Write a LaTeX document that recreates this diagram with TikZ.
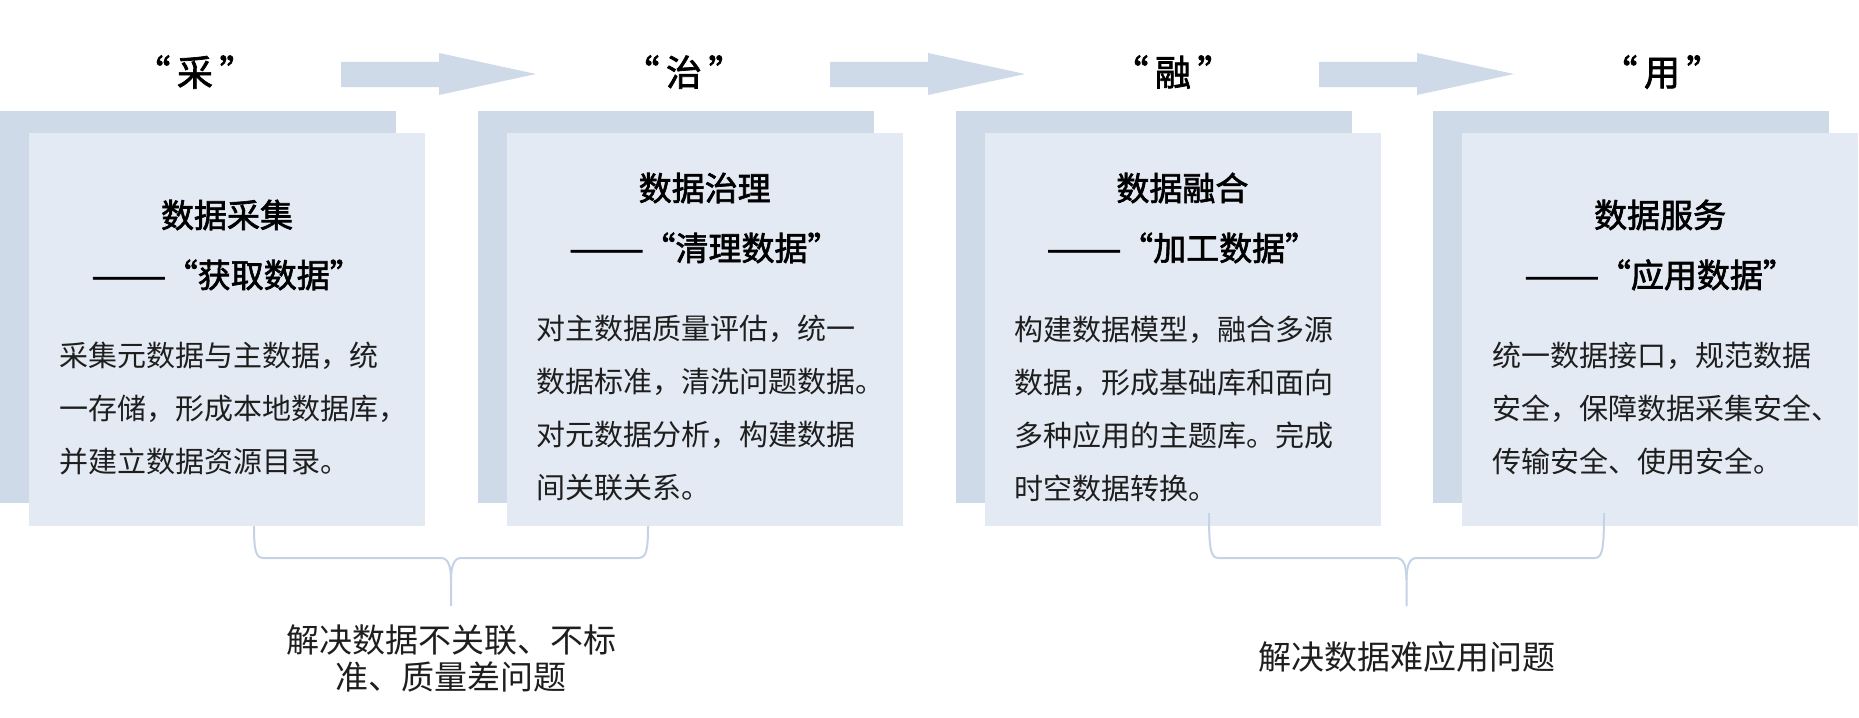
\documentclass[tikz,border=0pt]{standalone}
\usepackage{fontspec}
\usepackage{graphicx}
\setmainfont{Noto Sans CJK SC}
\newfontfamily\semibold{Noto Sans CJK SC}[FakeBold=2]
\newcommand{\mylongdash}{\scalebox{1.36}[1]{——}}
\newcommand{\myopenq}{\hspace{-0.05em}“}
\newcommand{\mycloseq}{”\hspace{0.45em}}
\definecolor{backc}{HTML}{CFDAE8}
\definecolor{frontc}{HTML}{E4EAF3}
\definecolor{bracec}{HTML}{C6D3E6}
\definecolor{bodyc}{HTML}{1E1E1E}
\tikzset{
  backbox/.style={fill=backc,draw=none,inner sep=0pt,anchor=north west,minimum width=396pt,minimum height=392pt},
  frontbox/.style={fill=frontc,draw=none,inner sep=0pt,anchor=north west,minimum width=396pt,minimum height=393pt},
  stagetitle/.style={font=\fontsize{36}{40}\selectfont\semibold,inner sep=0pt},
  boxtitle/.style={font=\fontsize{33}{60}\selectfont\semibold,align=center,inner sep=0pt},
  bodytext/.style={font=\fontsize{29}{53}\selectfont,text=bodyc,align=left,anchor=west,inner sep=0pt},
  notetext/.style={font=\fontsize{33}{37}\selectfont,text=bodyc,align=center,inner sep=0pt},
  bracelink/.style={draw=bracec,line width=2pt},
  flowarrow/.style={fill=backc,draw=none}
}
\begin{document}
\begin{tikzpicture}[x=1pt,y=-1pt]
\useasboundingbox (0,0) rectangle (1859,717);
\fill[white] (0,0) rectangle (1859,717);
% back boxes
\node[backbox] (b1) at (0,111) {};
\node[backbox] (b2) at (477.7,111) {};
\node[backbox] (b3) at (955.4,111) {};
\node[backbox] (b4) at (1433.1,111) {};
% front boxes
\node[frontbox] (f1) at (29,133) {};
\node[frontbox] (f2) at (506.7,133) {};
\node[frontbox] (f3) at (984.4,133) {};
\node[frontbox] (f4) at (1462.1,133) {};
% stage titles
\node[stagetitle] (t1) at (195,72) {“\hspace{0.18em}采\hspace{0.18em}”};
\node[stagetitle] (t2) at (684,72) {“\hspace{0.18em}治\hspace{0.18em}”};
\node[stagetitle] (t3) at (1173,72) {“\hspace{0.18em}融\hspace{0.18em}”};
\node[stagetitle] (t4) at (1662,72) {“\hspace{0.18em}用\hspace{0.18em}”};
% block arrows
\foreach \dx in {0,489,978}{
  \fill[flowarrow] (341+\dx,62) -- (439+\dx,62) -- (439+\dx,53) -- (536+\dx,74) -- (439+\dx,95) -- (439+\dx,87) -- (341+\dx,87) -- cycle;
}
% box titles
\node[boxtitle] (h1) at (227,245) {数据采集\\\mylongdash\myopenq 获取数据\mycloseq};
\node[boxtitle] (h2) at (704.7,218) {数据治理\\\mylongdash\myopenq 清理数据\mycloseq};
\node[boxtitle] (h3) at (1182.4,218) {数据融合\\\mylongdash\myopenq 加工数据\mycloseq};
\node[boxtitle] (h4) at (1660.1,245) {数据服务\\\mylongdash\myopenq 应用数据\mycloseq};
% body texts
\node[bodytext] (p1) at (59,408.5) {采集元数据与主数据，统\\一存储，形成本地数据库，\\并建立数据资源目录。};
\node[bodytext] (p2) at (536.7,408.5) {对主数据质量评估，统一\\数据标准，清洗问题数据。\\对元数据分析，构建数据\\间关联关系。};
\node[bodytext] (p3) at (1014.4,408.5) {构建数据模型，融合多源\\数据，形成基础库和面向\\多种应用的主题库。完成\\时空数据转换。};
\node[bodytext] (p4) at (1492.1,408.5) {统一数据接口，规范数据\\安全，保障数据采集安全、\\传输安全、使用安全。};
% notes
\node[notetext] (n1) at (451,658.5) {解决数据不关联、不标\\准、质量差问题};
\node[notetext] (n2) at (1406.5,657) {解决数据难应用问题};
% braces
\coordinate (k1) at (451,606);
\coordinate (k2) at (1406.5,606);
\draw[bracelink] (254,526) .. controls (254,552) and (256,558) .. (264,558) -- (441,558) .. controls (448,558) and (451,566) .. (451,580) -- (k1);
\draw[bracelink] (648,526) .. controls (648,552) and (646,558) .. (638,558) -- (461,558) .. controls (454,558) and (451,566) .. (451,580);
\draw[bracelink] (1209,513) .. controls (1209,552) and (1211,558) .. (1219,558) -- (1396.5,558) .. controls (1403.5,558) and (1406.5,566) .. (1406.5,580) -- (k2);
\draw[bracelink] (1604,513) .. controls (1604,552) and (1602,558) .. (1594,558) -- (1416.5,558) .. controls (1409.5,558) and (1406.5,566) .. (1406.5,580);
\end{tikzpicture}
\end{document}
